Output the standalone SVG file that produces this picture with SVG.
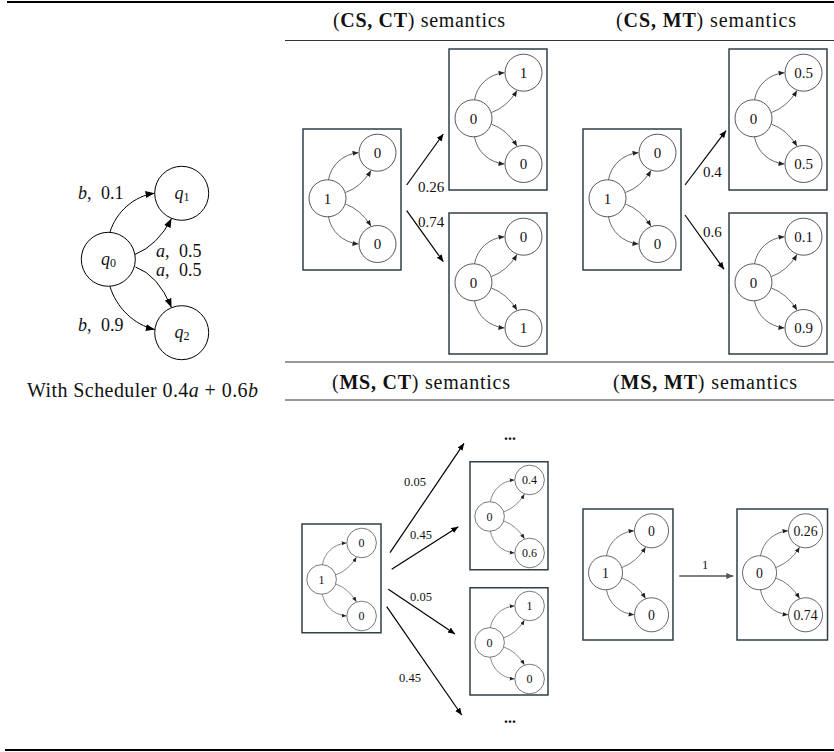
<svg xmlns="http://www.w3.org/2000/svg" xmlns:xlink="http://www.w3.org/1999/xlink" width="834" height="752" viewBox="0 0 834 752">
<style>
.rule{stroke:#000;stroke-width:2}
.hr{stroke:#333;stroke-width:1}
text{font-family:"Liberation Serif","Times New Roman","DejaVu Serif",serif;fill:#111}
.hd{font-size:20px;text-anchor:middle}
.b{font-weight:bold}
.it{font-style:italic}
.box{fill:#fff;stroke:#2f3f4a;stroke-width:1.5;vector-effect:non-scaling-stroke}
.nd{fill:#fff;stroke:#444;stroke-width:0.9}
.ed{fill:none;stroke:#444;stroke-width:0.8;marker-end:url(#ms)}
.lbl{font-size:15px;text-anchor:middle}
.arr{fill:none;stroke:#000;stroke-width:1.2;marker-end:url(#ma)}
.al{font-size:15px}
.al2{font-size:12.5px}
.q{fill:#fff;stroke:#000;stroke-width:1}
.qe{fill:none;stroke:#000;stroke-width:1;marker-end:url(#mq)}
.mt{font-size:18px}
.dots{font-size:16px;font-weight:bold;text-anchor:middle}
</style>
<defs>
<marker id="ms" markerUnits="userSpaceOnUse" markerWidth="7" markerHeight="6" refX="6" refY="2.5" orient="auto"><path d="M0 0 L6 2.5 L0 5z" fill="#222"/></marker>
<marker id="ma" markerUnits="userSpaceOnUse" markerWidth="9" markerHeight="7" refX="7" refY="3" orient="auto"><path d="M0 0 L7 3 L0 6z" fill="#000"/></marker>
<marker id="mg" markerUnits="userSpaceOnUse" markerWidth="9" markerHeight="7" refX="7" refY="3" orient="auto"><path d="M0 0 L7 3 L0 6z" fill="#555"/></marker>
<marker id="mq" markerUnits="userSpaceOnUse" markerWidth="10" markerHeight="8" refX="9" refY="3.5" orient="auto"><path d="M0 0 L9 3.5 L0 7z" fill="#000"/></marker>
<g id="mini">
<circle class="nd" cx="24.5" cy="69.3" r="18.5"/>
<circle class="nd" cx="74.5" cy="23.7" r="18.5"/>
<circle class="nd" cx="74.5" cy="115" r="18.5"/>
<path class="ed" d="M25.5 50.8 C28 36 40 25 55.5 23.7"/>
<path class="ed" d="M42.5 63.5 Q58 58 68 41.5"/>
<path class="ed" d="M42.5 75.1 Q58 80.6 68 97.2"/>
<path class="ed" d="M25.5 87.8 C28 102.6 40 113.6 55.5 114.9"/>
</g>
</defs>
<rect width="834" height="752" fill="#fff"/>

<g id="rules">
<line class="rule" x1="7" y1="2" x2="834" y2="2"/>
<line class="rule" x1="5" y1="750" x2="834" y2="750"/>
<line class="hr" x1="285" y1="40.5" x2="834" y2="40.5"/>
<line class="hr" x1="285" y1="362" x2="834" y2="362"/>
<line class="hr" x1="285" y1="400" x2="834" y2="400"/>
</g>

<g id="headers">
<text class="hd" x="419" y="27" textLength="172" lengthAdjust="spacing">(<tspan class="b">CS, CT</tspan>) semantics</text>
<text class="hd" x="706" y="27" textLength="180" lengthAdjust="spacing">(<tspan class="b">CS, MT</tspan>) semantics</text>
<text class="hd" x="421" y="388.5" textLength="178" lengthAdjust="spacing">(<tspan class="b">MS, CT</tspan>) semantics</text>
<text class="hd" x="705" y="388.5" textLength="184" lengthAdjust="spacing">(<tspan class="b">MS, MT</tspan>) semantics</text>
<text class="hd" x="142.5" y="397" textLength="231" lengthAdjust="spacing">With Scheduler 0.4<tspan class="it">a</tspan> + 0.6<tspan class="it">b</tspan></text>
</g>

<g id="automaton">
<g id="q0"><circle class="q" cx="108.3" cy="259.3" r="27"/><text class="mt" x="101" y="265" font-size="19"><tspan class="it">q</tspan><tspan font-size="12" dy="2">0</tspan></text></g>
<g id="q1"><circle class="q" cx="181.7" cy="193.3" r="27"/><text class="mt" x="174.5" y="199" font-size="19"><tspan class="it">q</tspan><tspan font-size="12" dy="2">1</tspan></text></g>
<g id="q2"><circle class="q" cx="181.7" cy="332.7" r="27"/><text class="mt" x="174.5" y="338" font-size="19"><tspan class="it">q</tspan><tspan font-size="12" dy="2">2</tspan></text></g>
<g id="automaton-edges">
<path class="qe" d="M110 232.2 C116 212 134 196 154.5 193.3"/>
<path class="qe" d="M135 254.5 Q158 245 171.5 218.5"/>
<path class="qe" d="M135.5 267 Q158 275 171.5 307.5"/>
<path class="qe" d="M110 286.5 C116 307 134 325 154.8 329.5"/>
</g>
<text class="mt" x="78" y="199"><tspan class="it">b</tspan>,</text><text class="mt" x="101" y="199">0.1</text>
<text class="mt" x="156" y="257.3"><tspan class="it">a</tspan>,</text><text class="mt" x="179" y="257.3">0.5</text>
<text class="mt" x="156" y="275.5"><tspan class="it">a</tspan>,</text><text class="mt" x="179" y="275.5">0.5</text>
<text class="mt" x="78" y="331"><tspan class="it">b</tspan>,</text><text class="mt" x="101" y="331">0.9</text>
</g>

<!-- (CS,CT) -->
<g id="csct-src" transform="translate(303,129)"><rect class="box" width="98" height="141"/><use href="#mini" xlink:href="#mini"/><text class="lbl" x="24.5" y="74.5">1</text><text class="lbl" x="74.5" y="28.9">0</text><text class="lbl" x="74.5" y="120.2">0</text></g>
<g id="csct-a" transform="translate(449,49)"><rect class="box" width="98" height="141"/><use href="#mini" xlink:href="#mini"/><text class="lbl" x="24.5" y="74.5">0</text><text class="lbl" x="74.5" y="28.9">1</text><text class="lbl" x="74.5" y="120.2">0</text></g>
<g id="csct-b" transform="translate(449,213)"><rect class="box" width="98" height="141"/><use href="#mini" xlink:href="#mini"/><text class="lbl" x="24.5" y="74.5">0</text><text class="lbl" x="74.5" y="28.9">0</text><text class="lbl" x="74.5" y="120.2">1</text></g>

<!-- (CS,MT) -->
<g id="csmt-src" transform="translate(583,129)"><rect class="box" width="98" height="141"/><use href="#mini" xlink:href="#mini"/><text class="lbl" x="24.5" y="74.5">1</text><text class="lbl" x="74.5" y="28.9">0</text><text class="lbl" x="74.5" y="120.2">0</text></g>
<g id="csmt-a" transform="translate(729,49)"><rect class="box" width="98" height="141"/><use href="#mini" xlink:href="#mini"/><text class="lbl" x="24.5" y="74.5">0</text><text class="lbl" x="74.5" y="28.9">0.5</text><text class="lbl" x="74.5" y="120.2">0.5</text></g>
<g id="csmt-b" transform="translate(729,213)"><rect class="box" width="98" height="141"/><use href="#mini" xlink:href="#mini"/><text class="lbl" x="24.5" y="74.5">0</text><text class="lbl" x="74.5" y="28.9">0.1</text><text class="lbl" x="74.5" y="120.2">0.9</text></g>

<!-- (MS,CT) -->
<g id="msct-src" transform="translate(302,524) scale(0.8)"><rect class="box" width="98.75" height="136"/><use href="#mini" xlink:href="#mini"/><text class="lbl" x="24.5" y="74.5">1</text><text class="lbl" x="74.5" y="28.9">0</text><text class="lbl" x="74.5" y="120.2">0</text></g>
<g id="msct-a" transform="translate(470,461) scale(0.8)"><rect class="box" y="1" width="97.5" height="135"/><use href="#mini" xlink:href="#mini"/><text class="lbl" x="24.5" y="74.5">0</text><text class="lbl" x="74.5" y="28.9">0.4</text><text class="lbl" x="74.5" y="120.2">0.6</text></g>
<g id="msct-b" transform="translate(470,587) scale(0.8)"><rect class="box" y="1" width="97.5" height="134"/><use href="#mini" xlink:href="#mini"/><text class="lbl" x="24.5" y="74.5">0</text><text class="lbl" x="74.5" y="28.9">1</text><text class="lbl" x="74.5" y="120.2">0</text></g>
<g id="msct-dots-top"><text class="dots" x="510" y="440">...</text></g>
<g id="msct-dots-bottom"><text class="dots" x="510" y="723">...</text></g>

<!-- (MS,MT) -->
<g id="msmt-src" transform="translate(583,509) scale(0.92)"><rect class="box" width="97.8" height="142.4"/><use href="#mini" xlink:href="#mini"/><text class="lbl" x="24.5" y="74.5">1</text><text class="lbl" x="74.5" y="28.9">0</text><text class="lbl" x="74.5" y="120.2">0</text></g>
<g id="msmt-dst" transform="translate(737,509) scale(0.92)"><rect class="box" width="98.4" height="142.4"/><use href="#mini" xlink:href="#mini"/><text class="lbl" x="24.5" y="74.5">0</text><text class="lbl" x="74.5" y="28.9">0.26</text><text class="lbl" x="74.5" y="120.2">0.74</text></g>

<g id="connectors">
<path class="arr" d="M406.7 185 L443.3 134"/>
<path class="arr" d="M406.7 210.7 L443.3 261.7"/>
<path class="arr" d="M685 185 L726 130.7"/>
<path class="arr" d="M685 215 L724 269.3"/>
<path class="arr" d="M390 552.7 L464 443.3"/>
<path class="arr" d="M391.7 569.3 L458.3 526.7"/>
<path class="arr" d="M388.3 589.3 L455 634"/>
<path class="arr" d="M386.7 606.7 L461.7 715"/>
<path class="arr" d="M679.3 576 L733.3 576" style="stroke:#555;stroke-width:1.5;marker-end:url(#mg)"/>
<text class="al" x="418" y="191.5">0.26</text>
<text class="al" x="418" y="226.5">0.74</text>
<text class="al" x="703" y="176.5">0.4</text>
<text class="al" x="703" y="236.5">0.6</text>
<text class="al2" x="404" y="485.5">0.05</text>
<text class="al2" x="410" y="539">0.45</text>
<text class="al2" x="410" y="601">0.05</text>
<text class="al2" x="399" y="682">0.45</text>
<text class="al2" x="705" y="569" text-anchor="middle">1</text>
</g>
</svg>
